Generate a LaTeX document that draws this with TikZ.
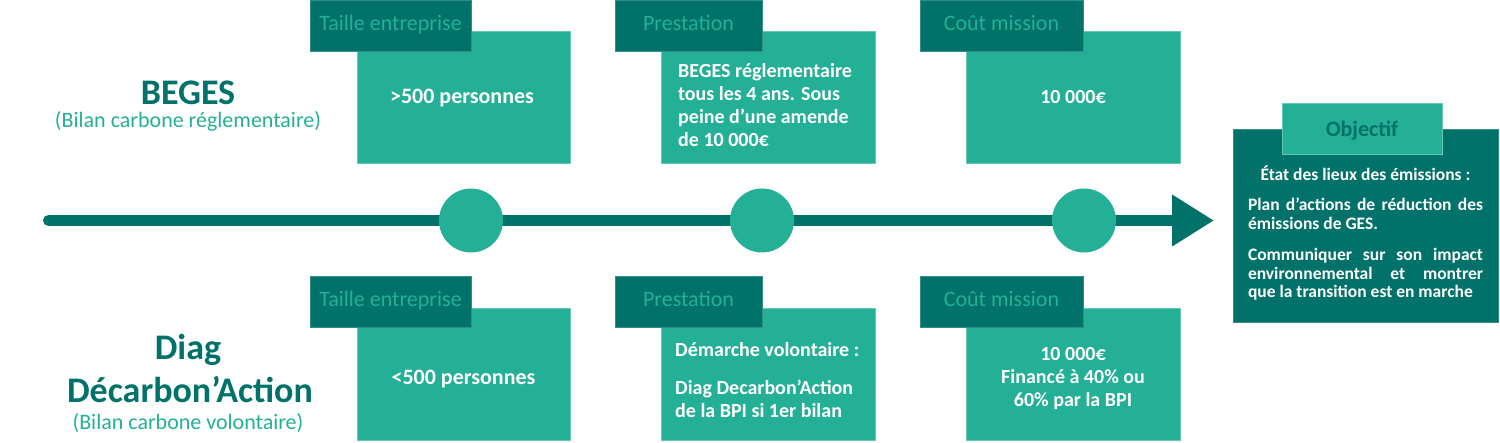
\documentclass[tikz,border=0pt]{standalone}
\usepackage{fontspec}
\setmainfont{Carlito}
\usetikzlibrary{arrows.meta}
\definecolor{darkteal}{HTML}{00726A}
\definecolor{lightteal}{HTML}{23B096}
\begin{document}
\begin{tikzpicture}[x=1pt,y=-1pt,
  card/.style={fill=lightteal, draw=lightteal!70!white, line width=0.6pt, anchor=north west, inner sep=0pt, outer sep=0pt},
  tab/.style={fill=darkteal, draw=darkteal!80!white, line width=0.6pt, anchor=north west, inner sep=0pt, outer sep=0pt,
    font=\fontsize{22}{26}\selectfont, text=lightteal, text height=15pt, text depth=4pt},
  objbox/.style={fill=darkteal, draw=darkteal!80!white, line width=0.6pt, anchor=north west, inner sep=0pt, outer sep=0pt},
  objtab/.style={fill=lightteal, draw=lightteal!70!white, line width=0.6pt, anchor=north west, inner sep=0pt, outer sep=0pt,
    font=\bfseries\fontsize{22}{26}\selectfont, text=darkteal, text height=17pt, text depth=0pt},
  onetext/.style={font=\bfseries\fontsize{22}{26}\selectfont, text=white, anchor=base, inner sep=0pt},
  multitext/.style={font=\bfseries\fontsize{20}{23.2}\selectfont, text=white, inner sep=0pt},
  objtext/.style={font=\bfseries\fontsize{17.5}{18.3}\selectfont, text=white, inner sep=0pt,
    anchor=north, text width=235pt, align=justify},
  title/.style={font=\bfseries\fontsize{36}{40}\selectfont, text=darkteal, anchor=base, inner sep=0pt},
  subtitle/.style={font=\fontsize{22}{26}\selectfont, text=lightteal, anchor=base, inner sep=0pt},
  dot/.style={circle, fill=lightteal, minimum size=64pt, inner sep=0pt},
  timeline/.style={draw=darkteal, line width=11pt, line cap=round, -{Triangle[length=42pt,width=49pt]}}
]
\useasboundingbox (0,0) rectangle (1500,443);

% titles
\node[title] (beges) at (188,105) {BEGES};
\node[subtitle] (begessub) at (188,128) {(Bilan carbone réglementaire)};
\node[title] (diag1) at (188,360) {Diag};
\node[title] (diag2) at (190,403) {Décarbon’Action};
\node[subtitle] (diagsub) at (188,430) {(Bilan carbone volontaire)};

% top row
\node[card, minimum width=213pt, minimum height=132pt] (c1) at (357,31) {};
\node[tab, minimum width=161pt, minimum height=51pt] (t1) at (310,0) {Taille entreprise};
\node[onetext] (c1txt) at (462,104) {>500 personnes};

\node[card, minimum width=214pt, minimum height=132pt] (c2) at (661,31) {};
\node[tab, minimum width=147pt, minimum height=51pt] (t2) at (615,0) {Prestation};
\node[multitext, anchor=north west, align=left] (c2txt) at (678,63) {BEGES réglementaire\\tous les 4 ans. Sous\\peine d’une amende\\de 10 000€};

\node[card, minimum width=214pt, minimum height=132pt] (c3) at (966,31) {};
\node[tab, minimum width=163pt, minimum height=51pt] (t3) at (920,0) {Coût mission};
\node[multitext, anchor=base] (c3txt) at (1073,104) {10 000€};

% bottom row
\node[card, minimum width=213pt, minimum height=132pt] (c4) at (357,308) {};
\node[tab, minimum width=161pt, minimum height=51pt] (t4) at (310,276) {Taille entreprise};
\node[onetext] (c4txt) at (463.5,385) {<500 personnes};

\node[card, minimum width=214pt, minimum height=132pt] (c5) at (661,308) {};
\node[tab, minimum width=147pt, minimum height=51pt] (t5) at (615,276) {Prestation};
\node[multitext, anchor=north west, align=left] (c5txt) at (675,342.5) {Démarche volontaire :\\[14.5pt]Diag Decarbon’Action\\de la BPI si 1er bilan};

\node[card, minimum width=214pt, minimum height=132pt] (c6) at (966,308) {};
\node[tab, minimum width=163pt, minimum height=51pt] (t6) at (920,276) {Coût mission};
\node[multitext, anchor=north, align=center] (c6txt) at (1073,347.2) {10 000€\\Financé à 40\% ou\\60\% par la BPI};

% timeline
\coordinate (tls) at (48.5,220.5);
\coordinate (tle) at (1214,220.5);
\draw[timeline] (tls) -- (tle);
\node[dot] (d1) at (471,220.5) {};
\node[dot] (d2) at (762,220.5) {};
\node[dot] (d3) at (1084,220.5) {};

% objectif
\node[objbox, minimum width=265pt, minimum height=193pt] (obj) at (1233,129) {};
\node[objtab, minimum width=160pt, minimum height=51pt] (objt) at (1282,103) {Objectif};
\node[objtext] (objtxt) at (1365.5,165.3) {\hyphenpenalty=10000\relax{\centering État des lieux des émissions :\par}\vspace{12.4pt}%
\leftskip=0pt\rightskip=0pt\parfillskip=0pt plus 1fil\relax
Plan d’actions de réduction des\linebreak émissions de GES.\par\vspace{13.4pt}%
Communiquer sur son impact\linebreak environnemental et montrer\linebreak que la transition est en marche\par};
\end{tikzpicture}
\end{document}
